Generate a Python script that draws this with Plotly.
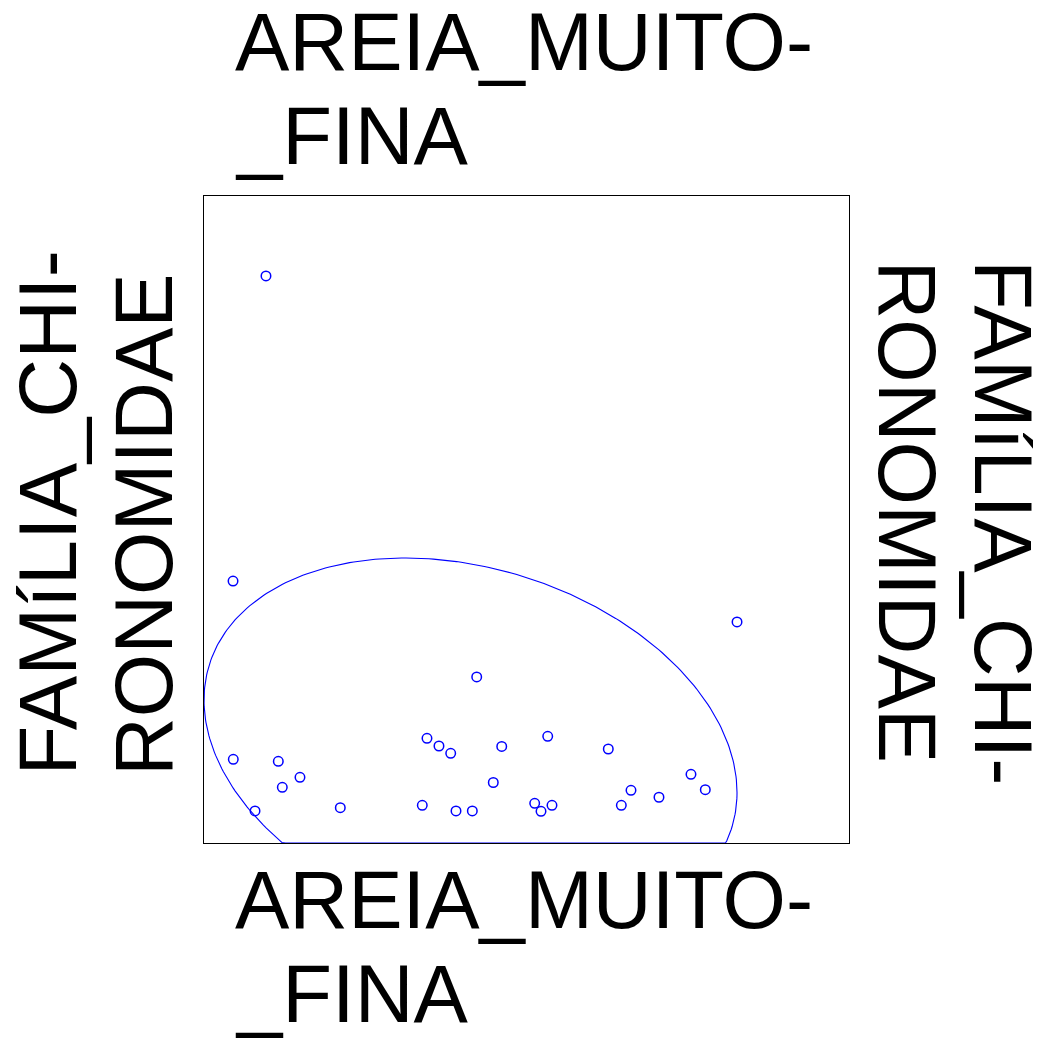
import numpy as np
import plotly.graph_objects as go

# points (arbitrary 0-100 units on both axes)
areia_muito_fina = [4.54, 11.52, 14.88, 12.14, 7.91, 21.13, 33.84, 39.07, 41.60, 34.57,
                    36.43, 38.25, 46.16, 44.85, 42.28, 53.29, 62.68, 51.27, 52.25, 53.95,
                    66.20, 64.70, 70.54, 75.50, 77.72, 9.61, 4.50, 82.64]
familia_chironomidae = [12.94, 12.63, 10.15, 8.61, 4.95, 5.46, 5.83, 4.95, 4.95, 16.18,
                        14.99, 13.86, 14.92, 9.35, 25.66, 16.49, 14.53, 6.14, 4.90, 5.83,
                        8.15, 5.83, 7.07, 10.62, 8.24, 87.64, 40.49, 34.16]

# data ellipse (centre and covariance, same units)
ellipse_center = [41.32, 14.95]
ellipse_cov = [[1707.2, -295.5],
               [-295.5, 847.0]]

x_range = [0, 100]
y_range = [0, 100]

x_label = ["AREIA_MUITO-", "_FINA"]
y_label = ["FAMíLIA_CHI-", "RONOMIDAE"]

# page body has an 8px margin, so the figure is drawn 8px in
OFF = 8
W, H = 1041 - OFF, 1040 - OFF
L, R, T, B = 204, 849, 196, 843   # plot frame in window pixels

def px_x(p):
    return (p - L) / (R - L)

def px_y(p):
    return (B - p) / (B - T)

# ellipse curve
t = np.linspace(0, 2 * np.pi, 361)
chol = np.linalg.cholesky(np.array(ellipse_cov))
circ = np.vstack([np.cos(t), np.sin(t)])
ell = chol @ circ
ex = ellipse_center[0] + ell[0]
ey = np.maximum(ellipse_center[1] + ell[1], y_range[0])

fig = go.Figure()
fig.add_trace(
    go.Scatter(
        x=ex, y=ey,
        mode="lines",
        line=dict(color="#0000FF", width=1.1),
        hoverinfo="skip",
    )
)
fig.add_trace(
    go.Scatter(
        x=areia_muito_fina,
        y=familia_chironomidae,
        mode="markers",
        marker=dict(symbol="circle-open", size=9.5, color="#0000FF",
                    line=dict(width=1.5, color="#0000FF")),
    )
)

font = dict(family="Liberation Sans, Arial, sans-serif", size=81.5, color="black")
annotations = []
# top and bottom labels
for cy in [(41, 135.5), (899, 993)]:
    for line, yc in zip(x_label, cy):
        annotations.append(dict(
            text=line, xref="paper", yref="paper",
            x=px_x(234), y=px_y(yc), xanchor="left", yanchor="middle",
            showarrow=False, font=font, borderpad=0,
        ))
# left label, reading upward
for line, xc in zip(y_label, (47, 143.5)):
    annotations.append(dict(
        text=line, xref="paper", yref="paper",
        x=px_x(xc), y=px_y(777), xanchor="center", yanchor="bottom",
        textangle=-90, showarrow=False, font=font, borderpad=0,
    ))
# right label, reading downward
for line, xc in zip(y_label, (1003.5, 907)):
    annotations.append(dict(
        text=line, xref="paper", yref="paper",
        x=px_x(xc), y=px_y(259), xanchor="center", yanchor="top",
        textangle=90, showarrow=False, font=font, borderpad=0,
    ))

fig.update_xaxes(range=x_range, showgrid=False, zeroline=False, showticklabels=False,
                 ticks="", showline=True, mirror=True, linecolor="black", linewidth=1,
                 layer="below traces")
fig.update_yaxes(range=y_range, showgrid=False, zeroline=False, showticklabels=False,
                 ticks="", showline=True, mirror=True, linecolor="black", linewidth=1,
                 layer="below traces")
fig.update_layout(
    width=W,
    height=H,
    margin=dict(l=L - OFF, r=W - (R - OFF), t=T - OFF, b=H - (B - OFF)),
    showlegend=False,
    plot_bgcolor="white",
    paper_bgcolor="white",
    annotations=annotations,
)

fig.write_html("out.html")
